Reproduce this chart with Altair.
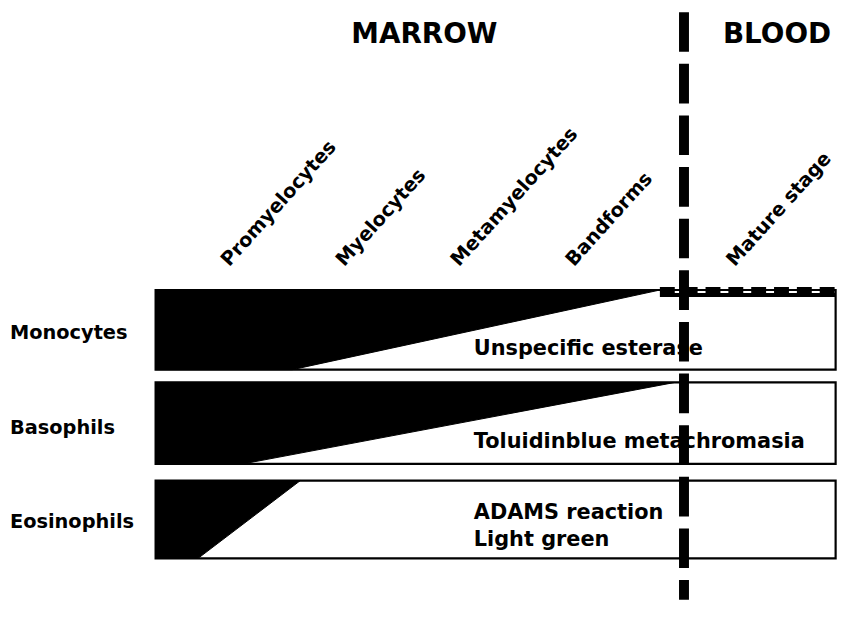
import altair as alt
import pandas as pd

# ---- data ----
STAGES = ["Promyelocytes", "Myelocytes", "Metamyelocytes", "Bandforms", "Mature stage"]
STAGE_POS = [1.0, 2.0, 3.0, 4.0, 5.4]
STAGE_BASE = -0.59

ROWS = ["Monocytes", "Basophils", "Eosinophils"]
ROW_TOP = [-0.42, 0.555, 1.59]
ROW_BOTTOM = [0.42, 1.414, 2.41]
ROW_LABEL_BASE = [0.094, 1.10, 2.094]
ROW_LABEL_X = -0.858
BAR_START = 0.41
BAR_END = 6.33
WEDGE_TOP_END = [4.80, 4.93, 1.67]
WEDGE_BOTTOM_END = [1.60, 1.17, 0.78]

NOTES = ["Unspecific esterase", "Toluidinblue metachromasia", "ADAMS reaction", "Light green"]
NOTE_X = 3.18
NOTE_BASE = [0.262, 1.246, 2.0, 2.283]

REGIONS = ["MARROW", "BLOOD"]
REGION_X = [2.75, 5.82]
REGION_BASE = -3.03

BOUNDARY_X = 5.01
BOUNDARY_TOP = -3.351
BOUNDARY_BOTTOM = 2.848

MONO_DASH_START = 4.80

X = alt.Scale(domain=[-0.875, 6.342], nice=False, zero=False)
Y = alt.Scale(domain=[-3.372, 2.848], nice=False, zero=False, reverse=True)
FONT = "DejaVu Sans"

# ---- tables ----
wedge_rows = []
for r, t, b, te, be in zip(ROWS, ROW_TOP, ROW_BOTTOM, WEDGE_TOP_END, WEDGE_BOTTOM_END):
    wedge_rows += [
        {"row": r, "x": BAR_START, "y": t, "y2": b},
        {"row": r, "x": be, "y": t, "y2": b},
        {"row": r, "x": te, "y": t, "y2": t},
    ]
wedge_df = pd.DataFrame(wedge_rows)
bars_df = pd.DataFrame({"row": ROWS, "top": ROW_TOP, "bottom": ROW_BOTTOM,
                        "x": [BAR_START] * 3, "x2": [BAR_END] * 3})
rowlab_df = pd.DataFrame({"row": ROWS, "x": [ROW_LABEL_X] * 3, "y": ROW_LABEL_BASE})
stage_df = pd.DataFrame({"stage": STAGES, "x": STAGE_POS, "y": [STAGE_BASE] * len(STAGES)})
notes_df = pd.DataFrame({"note": NOTES, "x": [NOTE_X] * len(NOTES), "y": NOTE_BASE})
region_df = pd.DataFrame({"region": REGIONS, "x": REGION_X, "y": [REGION_BASE] * 2})
boundary_df = pd.DataFrame({"x": [BOUNDARY_X], "y": [BOUNDARY_TOP], "y2": [BOUNDARY_BOTTOM]})
mono_df = pd.DataFrame({"x": [MONO_DASH_START], "x2": [BAR_END], "y": [ROW_TOP[0]]})

# ---- layers ----
def wedge(row):
    return alt.Chart(wedge_df[wedge_df.row == row]).mark_area(
        fill="black", stroke="black", strokeWidth=1, interpolate="linear", orient="vertical"
    ).encode(
        x=alt.X("x:Q", scale=X, axis=None),
        y=alt.Y("y:Q", scale=Y, axis=None, stack=False),
        y2="y2:Q",
    )

wedges = [wedge(r) for r in ROWS]

bars = alt.Chart(bars_df).mark_rect(fillOpacity=0, stroke="black", strokeWidth=2.2).encode(
    x=alt.X("x:Q", scale=X, axis=None), x2="x2:Q",
    y=alt.Y("top:Q", scale=Y, axis=None), y2="bottom:Q",
)

mono_solid = alt.Chart(mono_df).mark_rule(color="black", strokeWidth=4).encode(
    x=alt.X("x:Q", scale=X, axis=None), x2="x2:Q",
    y=alt.Y("y:Q", scale=Y, axis=None),
    yOffset=alt.value(5),
)
mono_dash = alt.Chart(mono_df).mark_rule(color="black", strokeWidth=6, strokeDash=[15, 8]).encode(
    x=alt.X("x:Q", scale=X, axis=None), x2="x2:Q",
    y=alt.Y("y:Q", scale=Y, axis=None),
)

text_style = dict(font=FONT, color="black", fontWeight="bold",
                  align="left", baseline="alphabetic")

notes = alt.Chart(notes_df).mark_text(fontSize=21, **text_style).encode(
    x=alt.X("x:Q", scale=X, axis=None), y=alt.Y("y:Q", scale=Y, axis=None), text="note:N")

rowlabs = alt.Chart(rowlab_df).mark_text(fontSize=19.5, **text_style).encode(
    x=alt.X("x:Q", scale=X, axis=None), y=alt.Y("y:Q", scale=Y, axis=None), text="row:N")

stages = alt.Chart(stage_df).mark_text(fontSize=19.5, angle=312, dx=9, **text_style).encode(
    x=alt.X("x:Q", scale=X, axis=None), y=alt.Y("y:Q", scale=Y, axis=None), text="stage:N")

regions = alt.Chart(region_df).mark_text(
    fontSize=28, font=FONT, color="black", fontWeight="bold",
    align="center", baseline="alphabetic").encode(
    x=alt.X("x:Q", scale=X, axis=None), y=alt.Y("y:Q", scale=Y, axis=None), text="region:N")

boundary = alt.Chart(boundary_df).mark_rule(color="black", strokeWidth=10, strokeDash=[40, 12]).encode(
    x=alt.X("x:Q", scale=X, axis=None),
    y=alt.Y("y:Q", scale=Y, axis=None), y2="y2:Q",
)

chart = alt.layer(
    *wedges, bars, mono_dash, mono_solid, notes, rowlabs, stages, regions, boundary
).properties(
    width=835, height=594, padding=0, background="white",
    autosize=alt.AutoSizeParams(type="none"),
).configure_view(stroke=None)

chart.save("out.html", embed_options={"renderer": "svg", "actions": False})
